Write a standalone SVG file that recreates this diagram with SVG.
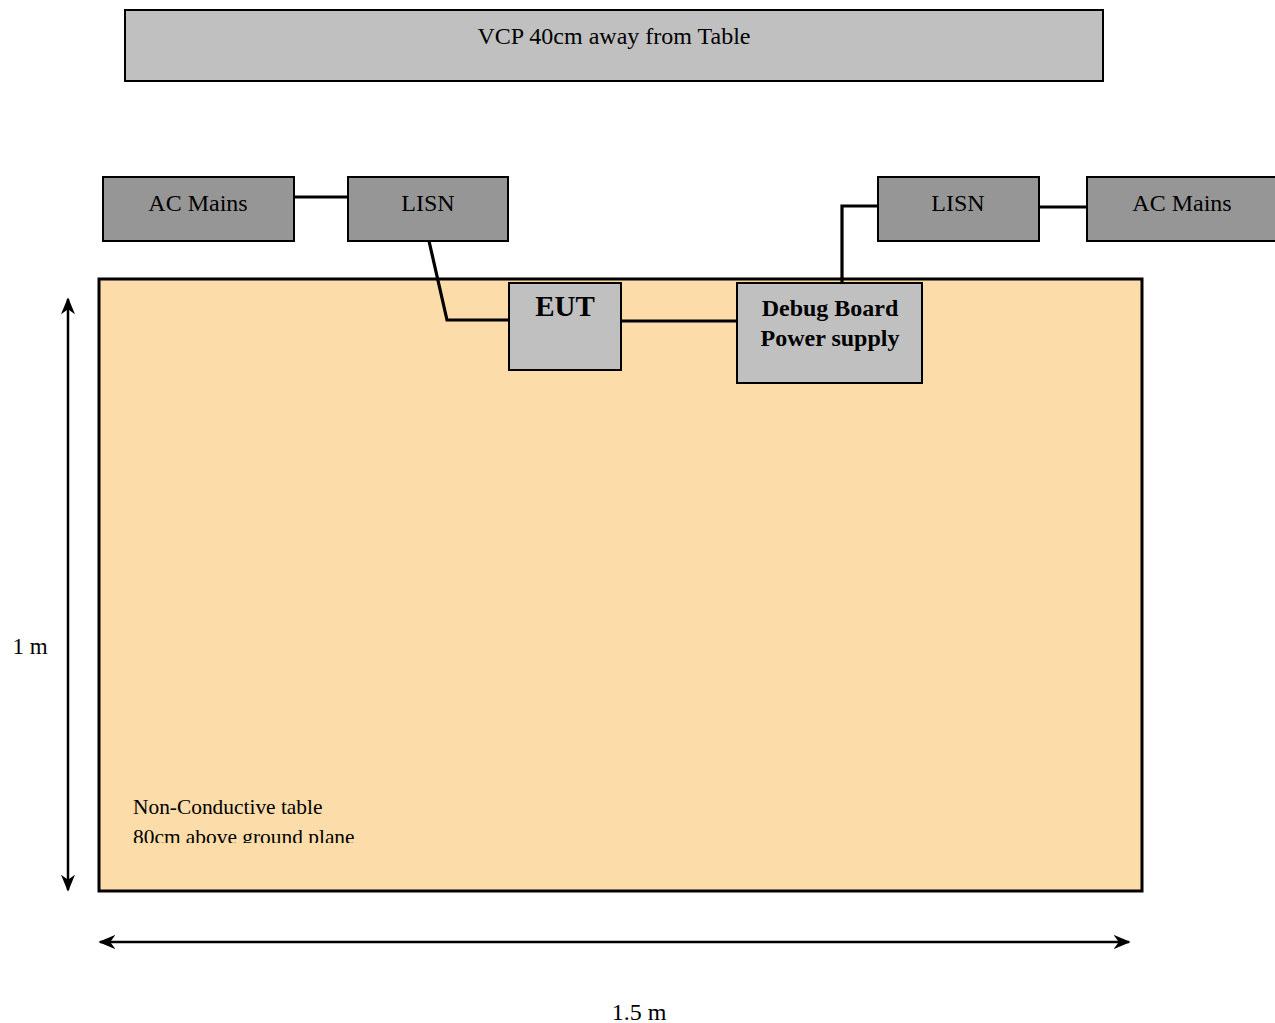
<svg xmlns="http://www.w3.org/2000/svg" width="1275" height="1023" viewBox="0 0 1275 1023">
<style>
text{font-family:"Liberation Serif","Times New Roman",serif;fill:#000}
.lbl{font-size:24px;text-anchor:middle}
.b{font-weight:bold}
.big{font-size:29px}
.box{stroke:#000;stroke-width:2}
.dark{fill:#969696}
.light{fill:#c0c0c0}
.wire{fill:none;stroke:#000;stroke-width:3.2}
.dim{fill:none;stroke:#000;stroke-width:2.5}
</style>
<defs>
<marker id="ah" viewBox="0 0 10 10" refX="9" refY="5" markerWidth="17" markerHeight="14" orient="auto-start-reverse" markerUnits="userSpaceOnUse" preserveAspectRatio="none">
<path d="M0,0 L10,5 L0,10 L3,5 z" fill="#000"/>
</marker>
<clipPath id="tclip"><rect x="100" y="780" width="400" height="63"/></clipPath>
</defs>
<rect width="1275" height="1023" fill="#fff"/>
<g id="vcp">
<rect class="box light" x="125" y="10" width="978" height="71"/>
<text class="lbl" x="614" y="44">VCP 40cm away from Table</text>
</g>
<g id="table">
<rect x="99" y="279" width="1043" height="612" fill="#fcdca8" stroke="#000" stroke-width="3"/>
<g clip-path="url(#tclip)">
<text x="133" y="814" font-size="21.4">Non-Conductive table</text>
<text x="133" y="844" font-size="21.4">80cm above ground plane</text>
</g>
</g>
<g id="connectors">
<path class="wire" d="M294,197 H348"/>
<path class="wire" d="M1039,207 H1087"/>
<path class="wire" d="M429,241 L447,320 H509"/>
<path class="wire" d="M621,321 H737"/>
<path class="wire" d="M842,283 V206 H878"/>
<path class="dim" d="M68,299 V890" marker-start="url(#ah)" marker-end="url(#ah)"/>
<path class="dim" d="M100,942 H1129" marker-start="url(#ah)" marker-end="url(#ah)"/>
</g>
<g id="ac-left">
<rect class="box dark" x="103" y="177" width="191" height="64"/>
<text class="lbl" x="198" y="211">AC Mains</text>
</g>
<g id="lisn-left">
<rect class="box dark" x="348" y="177" width="160" height="64"/>
<text class="lbl" x="428" y="211">LISN</text>
</g>
<g id="lisn-right">
<rect class="box dark" x="878" y="177" width="161" height="64"/>
<text class="lbl" x="958" y="211">LISN</text>
</g>
<g id="ac-right">
<rect class="box dark" x="1087" y="177" width="192" height="64"/>
<text class="lbl" x="1182" y="211">AC Mains</text>
</g>
<g id="eut">
<rect class="box light" x="509" y="283" width="112" height="87"/>
<text class="lbl b big" x="565" y="316">EUT</text>
</g>
<g id="debug">
<rect class="box light" x="737" y="283" width="185" height="100"/>
<text class="lbl b" x="830" y="316">Debug Board</text>
<text class="lbl b" x="830" y="346">Power supply</text>
</g>
<text x="30" y="654" font-size="23" text-anchor="middle">1 m</text>
<text x="639" y="1020" font-size="24" text-anchor="middle">1.5 m</text>
</svg>
